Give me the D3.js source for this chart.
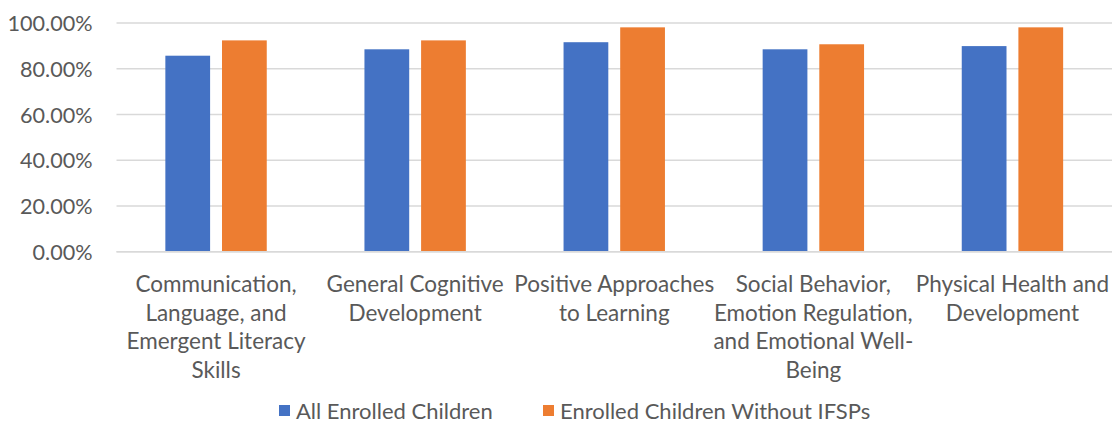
<!DOCTYPE html>
<html><head><meta charset="utf-8">
<script src="https://cdn.jsdelivr.net/npm/d3@7"></script>
<style>html,body{margin:0;padding:0;background:#fff;}svg{display:block;}</style>
</head><body>
<svg id="chart" width="1112" height="423"></svg>
<script>
const categories = [
  "Communication, Language, and Emergent Literacy Skills",
  "General Cognitive Development",
  "Positive Approaches to Learning",
  "Social Behavior, Emotion Regulation, and Emotional Well-Being",
  "Physical Health and Development"
];
const categoryLines = [
  ["Communication,", "Language, and", "Emergent Literacy", "Skills"],
  ["General Cognitive", "Development"],
  ["Positive Approaches", "to Learning"],
  ["Social Behavior,", "Emotion Regulation,", "and Emotional Well-", "Being"],
  ["Physical Health and", "Development"]
];
const seriesNames = ["All Enrolled Children", "Enrolled Children Without IFSPs"];
const allEnrolled = [0.857, 0.885, 0.916, 0.885, 0.899];
const withoutIFSPs = [0.924, 0.924, 0.981, 0.907, 0.981];
const yTicks = [0, 0.2, 0.4, 0.6, 0.8, 1.0];
const colors = ["#4472C4", "#ED7D31"];

const FONT = "Lato, 'Open Sans', sans-serif";
const svg = d3.select("#chart");
const plot = {left: 116.5, right: 1112, top: 23, bottom: 251.7};

const x0 = d3.scaleBand().domain(categories).range([plot.left, plot.right]).padding(0);
const groupW = 101.4;
const x1 = d3.scaleBand().domain(seriesNames).range([0, groupW]).paddingInner(0.21).paddingOuter(0);
const y = d3.scaleLinear().domain([0, 1]).range([plot.bottom, plot.top]);

// gridlines
svg.append("g").selectAll("line").data(yTicks).join("line")
  .attr("x1", plot.left).attr("x2", plot.right)
  .attr("y1", d => y(d)).attr("y2", d => y(d))
  .attr("stroke", "#d9d9d9").attr("stroke-width", 1.5);

// y axis labels
const yAxis = d3.axisLeft(y).tickValues(yTicks).tickFormat(d => (d * 100).toFixed(2) + "%").tickSize(0).tickPadding(0);
const yg = svg.append("g").attr("transform", `translate(${92.5},0)`).call(yAxis);
yg.select(".domain").remove();
yg.selectAll("text").attr("font-family", FONT).attr("font-size", 21.6).attr("fill", "#595959").attr("dy", "0.35em");

// bars
const data = categories.map((c, i) => ({c, vals: [allEnrolled[i], withoutIFSPs[i]]}));
const groups = svg.append("g").selectAll("g").data(data).join("g")
  .attr("transform", d => `translate(${x0(d.c) + (x0.bandwidth() - groupW) / 2},0)`);
groups.selectAll("rect").data(d => d.vals.map((v, j) => ({s: seriesNames[j], v, j}))).join("rect")
  .attr("x", d => x1(d.s)).attr("width", x1.bandwidth())
  .attr("y", d => y(d.v)).attr("height", d => y(0) - y(d.v))
  .attr("fill", d => colors[d.j]);

// baseline
svg.append("line").attr("x1", plot.left).attr("x2", plot.right)
  .attr("y1", y(0)).attr("y2", y(0)).attr("stroke", "#d9d9d9").attr("stroke-width", 1.5);

// category labels
const lab = svg.append("g").selectAll("text").data(categories).join("text")
  .attr("font-family", FONT).attr("font-size", 22.5).attr("fill", "#595959")
  .attr("text-anchor", "middle");
lab.each(function(d, i) {
  const t = d3.select(this);
  categoryLines[i].forEach((ln, k) => {
    t.append("tspan").attr("x", x0(d) + x0.bandwidth() / 2).attr("y", 292 + k * 28.7).text(ln);
  });
});

// legend
const legendX = [279, 543];
const lg = svg.append("g").selectAll("g").data(seriesNames).join("g")
  .attr("transform", (d, i) => `translate(${legendX[i]},0)`);
lg.append("rect").attr("x", 0).attr("y", 405).attr("width", 11).attr("height", 11).attr("fill", (d, i) => colors[i]);
lg.append("text").attr("x", 17).attr("y", 418.5).attr("font-family", FONT).attr("font-size", 22)
  .attr("fill", "#595959").text(d => d);
</script>
</body></html>
